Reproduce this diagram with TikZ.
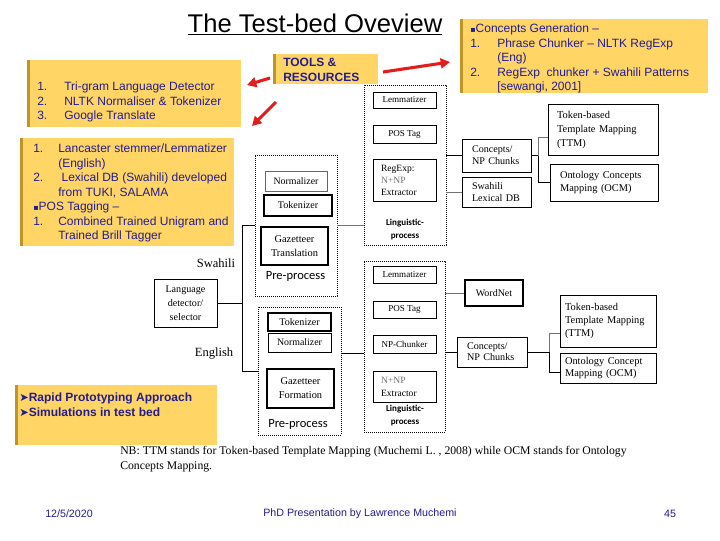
\documentclass[tikz,border=0pt]{standalone}
\usepackage{fontspec}
\setmainfont{Liberation Serif}
\newfontfamily\arialfont{Liberation Sans}
\newfontfamily\calfont{Carlito}
\newfontfamily\dejavu{DejaVu Sans}
\usetikzlibrary{arrows.meta,calc}

\definecolor{padyellow}{RGB}{255,214,102}
\definecolor{padgold}{RGB}{190,150,40}
\definecolor{padnavy}{RGB}{36,28,140}
\definecolor{arrowred}{RGB}{228,28,28}

\tikzset{
  titletext/.style={anchor=base, inner sep=0pt, font=\arialfont\fontsize{19.2}{22}\selectfont},
  yellowbox/.style={fill=padyellow, inner sep=0pt},
  goldedge/.style={draw=padgold, line width=2.2pt},
  listtext/.style={anchor=north west, inner sep=0pt, align=left, text=padnavy, font=\arialfont\fontsize{9}{10.9}\selectfont},
  boldtext/.style={listtext, font=\arialfont\bfseries\fontsize{9}{11.25}\selectfont},
  redarrow/.style={draw=arrowred, line width=2.3pt, -{Triangle[length=7pt,width=7.5pt]}},
  dotbox/.style={draw, dash pattern=on 0.6pt off 0.9pt, line width=0.5pt, inner sep=0pt},
  tbox/.style={draw, line width=0.55pt, inner sep=1pt, font=\fontsize{7.6}{9.5}\selectfont},
  smallbox/.style={tbox, font=\fontsize{6.8}{8}\selectfont},
  thickbox/.style={tbox, line width=0.95pt},
  ltbox/.style={tbox, align=left},
  procname/.style={inner sep=0pt, font=\calfont\fontsize{9.4}{11}\selectfont},
  lingname/.style={inner sep=0pt, align=center, font=\calfont\bfseries\fontsize{6.8}{9.75}\selectfont},
  langname/.style={inner sep=0pt, font=\fontsize{9.4}{11}\selectfont},
  link/.style={draw, line width=0.75pt},
  greylink/.style={draw=black!55, line width=0.75pt},
  foottext/.style={inner sep=0pt, text=padnavy, font=\arialfont\fontsize{8}{10}\selectfont},
}

\begin{document}
\begin{tikzpicture}[x=0.75pt,y=0.75pt,yscale=-1,xscale=1]
\useasboundingbox (0,0) rectangle (720,540);
\fill[white] (0,0) rectangle (720,540);

% Title
\node[titletext] (title) at (315,32) {\underline{The Test-bed Oveview}};

% Yellow note boxes
\node[yellowbox, minimum width=159pt, minimum height=50.25pt] (tribox) at (135,93.5) {};
\draw[goldedge] (tribox.north west) -- (tribox.south west);
\node[listtext] (tritext) at (37,81.7) {\makebox[20.25pt][l]{1.}Tri-gram Language Detector\\
  \makebox[20.25pt][l]{2.}NLTK Normaliser \& Tokenizer\\
  \makebox[20.25pt][l]{3.}Google Translate};

\node[yellowbox, minimum width=77.25pt, minimum height=22.5pt] (toolbox) at (326.5,69) {};
\draw[goldedge] (toolbox.north west) -- (toolbox.south west);
\node[boldtext] (tooltext) at (283,57.7) {TOOLS \&\\RESOURCES};

\node[yellowbox, minimum width=159pt, minimum height=81pt] (lexbox) at (128,192) {};
\draw[goldedge] (lexbox.north west) -- (lexbox.south west);
\node[listtext] (lextext) at (33,143.7) {\makebox[18.75pt][l]{1.}Lancaster stemmer/Lemmatizer\\
  \hspace*{18.75pt}(English)\\
  \makebox[18.75pt][l]{2.}\ Lexical DB (Swahili) developed\\
  \hspace*{18.75pt}from TUKI, SALAMA\\
  {\dejavu\fontsize{6}{6}\selectfont ▪}POS Tagging –\\
  \makebox[18.75pt][l]{1.}Combined Trained Unigram and\\
  \hspace*{18.75pt}Trained Brill Tagger};

\node[yellowbox, minimum width=184.5pt, minimum height=55.5pt] (conbox) at (585,56) {};
\draw[goldedge] (conbox.north west) -- (conbox.south west);
\node[listtext] (context) at (470,23.7) {{\dejavu\fontsize{6}{6}\selectfont ▪}Concepts Generation –\\
  \makebox[20.25pt][l]{1.}Phrase Chunker – NLTK RegExp\\
  \hspace*{20.25pt}(Eng)\\
  \makebox[20.25pt][l]{2.}RegExp\ \ chunker + Swahili Patterns\\
  \hspace*{20.25pt}[sewangi, 2001]};

\node[yellowbox, minimum width=150pt, minimum height=45pt] (rapbox) at (117,415) {};
\draw[goldedge] (rapbox.north west) -- (rapbox.south west);
\node[boldtext] (raptext) at (19,392.7) {{\dejavu\fontsize{8.5}{8.5}\selectfont ➤}Rapid Prototyping Approach\\
  {\dejavu\fontsize{8.5}{8.5}\selectfont ➤}Simulations in test bed};

% Red arrows
\coordinate (arrA) at (270,78);
\coordinate (arrB) at (247,85);
\coordinate (arrC) at (276,102);
\coordinate (arrD) at (252,126);
\coordinate (arrE) at (383,72);
\coordinate (arrF) at (450,62);
\draw[redarrow] (arrA) -- (arrB);
\draw[redarrow] (arrC) -- (arrD);
\draw[redarrow] (arrE) -- (arrF);

% Language selector
\node[tbox, align=center, minimum width=47.25pt, minimum height=36pt, font=\fontsize{7.6}{10.5}\selectfont] (lang) at (185.5,303) {Language\\detector/\\selector};
\node[langname] (swlabel) at (216,263) {Swahili};
\node[langname] (enlabel) at (214,353) {English};

% Swahili pre-process
\node[dotbox, minimum width=61.5pt, minimum height=105.75pt] (swpre) at (296,225.5) {};
\node[tbox, draw=black!60, minimum width=46.5pt, minimum height=15pt, font=\fontsize{7.4}{9}\selectfont] (swnorm) at (296,181) {Normalizer};
\node[thickbox, minimum width=51pt, minimum height=15.75pt] (swtok) at (298,205.5) {Tokenizer};
\node[thickbox, align=center, minimum width=50.25pt, minimum height=28.5pt, font=\fontsize{7.8}{10.5}\selectfont] (swgaz) at (294.5,246) {Gazetteer\\Translation};
\node[procname] (swpretxt) at (295.5,276) {Pre-process};

% Swahili linguistic process
\node[dotbox, minimum width=61.5pt, minimum height=120pt] (swling) at (405,165) {};
\node[smallbox, minimum width=47.25pt, minimum height=12pt] (swlem) at (404.5,100) {Lemmatizer};
\node[smallbox, minimum width=47.25pt, minimum height=13.5pt] (swpos) at (404.5,134) {POS Tag};
\node[ltbox, text width=35.25pt, inner xsep=6pt, minimum height=31.5pt, font=\fontsize{7.2}{9}\selectfont] (swrex) at (404.5,180) {RegExp:\\\textcolor{black!55}{N+NP}\\Extractor};
\node[lingname] (swlingtxt) at (405,229.5) {Linguistic-\\process};

% Swahili outputs
\node[ltbox, text width=36.75pt, inner xsep=7.5pt, minimum height=24.75pt, font=\fontsize{7.6}{8.75}\selectfont] (swcon) at (496.5,155.5) {Concepts/\\NP Chunks};
\node[ltbox, text width=36.75pt, inner xsep=7.5pt, minimum height=22.5pt, font=\fontsize{7.6}{8.5}\selectfont] (swlex) at (496.5,192) {Swahili\\Lexical DB};
\node[ltbox, text width=69pt, inner xsep=6.75pt, minimum height=38.25pt, font=\fontsize{7.8}{10.5}\selectfont] (swttm) at (603,129.5) {Token-based\\Template Mapping\\(TTM)};
\node[ltbox, text width=66pt, inner xsep=7.5pt, minimum height=27.75pt, font=\fontsize{7.8}{9.75}\selectfont] (swocm) at (604,182.5) {Ontology Concepts\\Mapping (OCM)};

% English pre-process
\node[dotbox, minimum width=62.25pt, minimum height=96pt] (enpre) at (299.5,371) {};
\node[thickbox, minimum width=47.25pt, minimum height=13.5pt] (entok) at (299.5,322) {Tokenizer};
\node[tbox, minimum width=47.25pt, minimum height=14.25pt, font=\fontsize{7.4}{9}\selectfont] (ennorm) at (299.5,342.5) {Normalizer};
\node[thickbox, align=center, minimum width=50.25pt, minimum height=29.25pt, font=\fontsize{7.8}{10.5}\selectfont] (engaz) at (300.5,388.5) {Gazetteer\\Formation};
\node[procname] (enpretxt) at (298,424) {Pre-process};

% English linguistic process
\node[dotbox, minimum width=60.75pt, minimum height=128.25pt] (enling) at (404.5,346.5) {};
\node[smallbox, minimum width=47.25pt, minimum height=12.75pt] (enlem) at (404.5,274.5) {Lemmatizer};
\node[smallbox, minimum width=47.25pt, minimum height=12.75pt] (enpos) at (404.5,309.5) {POS Tag};
\node[smallbox, minimum width=47.25pt, minimum height=13.5pt] (ench) at (404.5,344) {NP-Chunker};
\node[ltbox, text width=35.25pt, inner xsep=6pt, minimum height=23.25pt, font=\fontsize{7.2}{9.75}\selectfont] (enext) at (404.5,386.5) {\textcolor{black!55}{N+NP}\\Extractor};
\node[lingname] (enlingtxt) at (405,416) {Linguistic-\\process};

% English outputs
\node[thickbox, minimum width=43.5pt, minimum height=19.5pt, font=\fontsize{7.5}{9}\selectfont] (wn) at (494,293) {WordNet};
\node[ltbox, text width=37.5pt, inner xsep=7.5pt, minimum height=22.5pt, font=\fontsize{7.6}{8.25}\selectfont] (encon) at (492,352) {Concepts/\\NP Chunks};
\node[ltbox, text width=64.5pt, inner xsep=3.75pt, minimum height=39pt, font=\fontsize{7.8}{10.1}\selectfont] (enttm) at (608,321) {Token-based\\Template Mapping\\(TTM)};
\node[ltbox, text width=64.5pt, inner xsep=3.75pt, minimum height=22.5pt, font=\fontsize{7.8}{9}\selectfont] (enocm) at (608,368) {Ontology Concept\\Mapping (OCM)};

% Connectors
\draw[link] (lang.east) -- ++(25,0) coordinate (langsplit);
\draw[link] (langsplit) |- (swpre.west);
\draw[link] (langsplit) |- (enpre.west);
\draw[greylink] (swpre.east) -- (swpre.east -| swling.west);
\draw[link] (swling.east |- swcon.west) -- (swcon.west);
\draw[greylink] (swling.east |- swlex.west) -- (swlex.west);
\draw[link] (swcon.east) -- ++(7,0) coordinate (swsplit);
\draw[greylink] (swsplit) |- ($(swttm.west)+(0,8)$);
\draw[link] (swsplit) |- (swocm.west);
\coordinate (enjoin) at ($(enpre.east)+(0,-18)$);
\draw[link] (enjoin) -- (enjoin -| enling.west);
\draw[greylink] (enling.east |- wn.west) -- (wn.west);
\draw[link] (enling.east |- encon.west) -- (encon.west);
\draw[link] (encon.east) -- ++(22,0) coordinate (ensplit);
\draw[greylink] (ensplit) |- ($(enttm.west)+(0,12)$);
\draw[link] (ensplit) |- ($(enocm.west)+(0,4)$);

% Footnote
\node[anchor=north west, inner sep=0pt, align=left, font=\fontsize{8.8}{11.25}\selectfont] (nbnote) at (120,446) {NB: TTM stands for Token-based Template Mapping (Muchemi L. , 2008) while OCM stands for Ontology\\Concepts Mapping.};

% Footer
\node[foottext, anchor=west] (date) at (45,514) {12/5/2020};
\node[foottext] (byline) at (360,514) {PhD Presentation by Lawrence Muchemi};
\node[foottext] (pageno) at (670,514) {45};

\end{tikzpicture}
\end{document}
